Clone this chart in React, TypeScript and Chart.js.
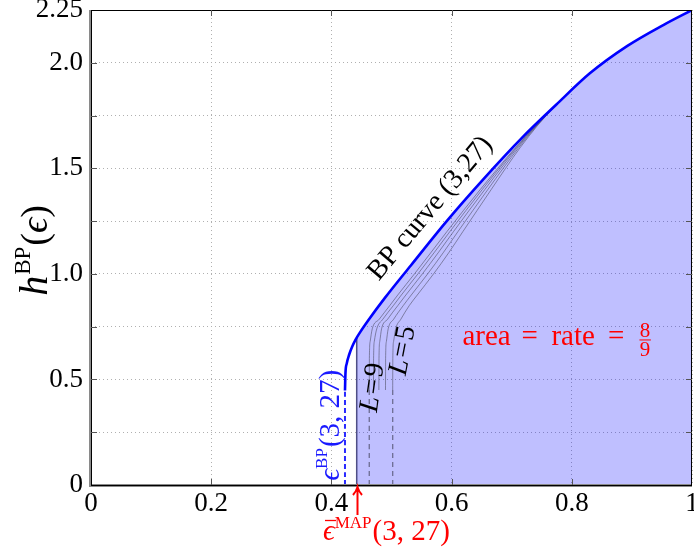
import React, { useEffect, useRef } from 'react';
import { Chart, registerables } from 'chart.js';
Chart.register(...registerables);

const SERIF = "'Liberation Serif', 'DejaVu Serif', serif";

// BP EXIT curve of the (3,27) ensemble
const bpX = [0.4226, 0.4234, 0.4255, 0.4295, 0.4345, 0.4405, 0.4476, 0.4626, 0.4887, 0.5322, 0.5919, 0.6534, 0.719, 0.7735, 0.83, 0.8925, 0.953, 1.0];
const bpY = [0.448, 0.53, 0.575, 0.617, 0.655, 0.69, 0.723, 0.785, 0.885, 1.04, 1.25, 1.45, 1.65, 1.8, 1.95, 2.08, 2.18, 2.25];

// thresholds
const epsBP = 0.4226;
const epsBPTop = 0.448;
const epsMAP = 0.4421;
const epsMAPTop = 0.697;

// coupled-chain curves L = 5..9 (shared heights)
const lY = [0.45, 0.6, 0.68, 0.74, 0.785, 0.85, 0.9, 1.0, 1.1, 1.2, 1.3, 1.4, 1.5, 1.6, 1.7, 1.8];
const l5X = [0.502, 0.5022, 0.5035, 0.507, 0.5155, 0.5296, 0.5429, 0.57, 0.5952, 0.6187, 0.6423, 0.666, 0.6898, 0.7146, 0.7422, 0.7735];
const l6X = [0.49, 0.4902, 0.4915, 0.4945, 0.5035, 0.5196, 0.5329, 0.5602, 0.586, 0.6105, 0.6353, 0.6604, 0.6858, 0.7122, 0.7412, 0.7735];
const l7X = [0.479, 0.4792, 0.4805, 0.4835, 0.4935, 0.5106, 0.5239, 0.5514, 0.5777, 0.6031, 0.629, 0.6554, 0.6822, 0.71, 0.7403, 0.7735];
const l8X = [0.47, 0.4702, 0.4714, 0.4755, 0.4855, 0.5031, 0.5164, 0.544, 0.5708, 0.597, 0.6238, 0.6512, 0.6792, 0.7082, 0.7396, 0.7735];
const l9X = [0.463, 0.4632, 0.4645, 0.468, 0.4795, 0.4971, 0.5104, 0.5382, 0.5653, 0.5921, 0.6196, 0.6478, 0.6768, 0.7068, 0.739, 0.7735];
const dashedLX = [0.463, 0.502];
const dashedTop = 0.45;

// axes
const xTickValues = [0, 0.2, 0.4, 0.6, 0.8, 1];
const xTickText = ['0', '0.2', '0.4', '0.6', '0.8', '1'];
const yTickValues = [0, 0.5, 1, 1.5, 2, 2.25];
const yTickText = ['0', '0.5', '1.0', '1.5', '2.0', '2.25'];

const pts = (xs: number[], ys: number[]) => xs.map((x, i) => ({ x, y: ys[i] }));
const fN = (s: number) => `${s}px ${SERIF}`;
const fI = (s: number) => `italic ${s}px ${SERIF}`;

type Part = { t: string; f: string; dy?: number; dx?: number };

function drawRich(ctx: CanvasRenderingContext2D, parts: Part[], x: number, y: number, angle: number, align: 'left' | 'center', color: string, baseline: CanvasTextBaseline = 'alphabetic') {
  ctx.save();
  ctx.translate(x, y);
  ctx.rotate(angle);
  ctx.fillStyle = color;
  ctx.textAlign = 'left';
  ctx.textBaseline = baseline;
  let total = 0;
  const widths = parts.map((p) => {
    ctx.font = p.f;
    const w = ctx.measureText(p.t).width + (p.dx || 0);
    total += w;
    return w;
  });
  let cx = align === 'center' ? -total / 2 : 0;
  parts.forEach((p, i) => {
    ctx.font = p.f;
    ctx.fillText(p.t, cx, -(p.dy || 0));
    cx += widths[i];
  });
  ctx.restore();
}

const annotPlugin = {
  id: 'annot',
  afterDatasetsDraw(chart: any) {
    const { ctx, chartArea: a, scales } = chart;
    const xs = scales.x;
    const ys = scales.y;
    const px = (v: number) => xs.getPixelForValue(v);
    const py = (v: number) => ys.getPixelForValue(v);

    // axis bands and box
    ctx.save();
    ctx.fillStyle = '#8a8a8a';
    ctx.fillRect(a.left - 2, a.top, 3, a.bottom - a.top + 1);
    ctx.fillRect(a.left - 2, a.bottom - 1, a.right - a.left + 2, 3);
    ctx.strokeStyle = '#000';
    ctx.lineWidth = 1;
    ctx.strokeRect(Math.round(a.left) + 0.5, Math.round(a.top) + 0.5, Math.round(a.right - a.left) - 1, Math.round(a.bottom - a.top));
    // inner ticks
    ctx.strokeStyle = '#555';
    ctx.beginPath();
    for (let v = 0.2; v < 0.99; v += 0.2) {
      const X = Math.round(px(v)) + 0.5;
      ctx.moveTo(X, a.bottom); ctx.lineTo(X, a.bottom - 6);
      ctx.moveTo(X, a.top); ctx.lineTo(X, a.top + 6);
    }
    for (let v = 0.25; v < 2.2; v += 0.25) {
      const Y = Math.round(py(v)) + 0.5;
      ctx.moveTo(a.left, Y); ctx.lineTo(a.left + 6, Y);
      ctx.moveTo(a.right, Y); ctx.lineTo(a.right - 6, Y);
    }
    ctx.stroke();
    ctx.restore();

    // BP curve label
    drawRich(ctx, [{ t: 'BP curve (3,27)', f: fN(28) }], px(0.5645), py(1.31), (-50 * Math.PI) / 180, 'center', '#000', 'middle');

    // L labels
    const lParts = (n: string): Part[] => [
      { t: 'L', f: fI(28), dx: 2 },
      { t: '=', f: fN(28), dx: 2 },
      { t: n, f: fN(28) },
    ];
    drawRich(ctx, lParts('9'), px(0.4692), py(0.462), (-82 * Math.PI) / 180, 'center', '#000', 'middle');
    drawRich(ctx, lParts('5'), px(0.519), py(0.637), (-79 * Math.PI) / 180, 'center', '#000', 'middle');

    // area = rate = 8/9
    const ax = px(0.618);
    const ay = py(0.661);
    ctx.save();
    ctx.fillStyle = '#ff0000';
    ctx.strokeStyle = '#ff0000';
    ctx.textBaseline = 'alphabetic';
    ctx.textAlign = 'left';
    ctx.font = fN(29);
    ctx.fillText('area', ax, ay);
    ctx.fillText('=', ax + 59, ay);
    ctx.fillText('rate', ax + 89, ay);
    ctx.fillText('=', ax + 145.6, ay);
    ctx.font = fN(21);
    ctx.textAlign = 'center';
    ctx.fillText('8', ax + 182.6, ay - 8);
    ctx.fillText('9', ax + 182.6, ay + 11);
    ctx.lineWidth = 1;
    ctx.beginPath();
    ctx.moveTo(ax + 177, ay - 5.5);
    ctx.lineTo(ax + 188.5, ay - 5.5);
    ctx.stroke();
    ctx.restore();

    // eps^BP(3,27) (blue, vertical)
    drawRich(
      ctx,
      [
        { t: 'ϵ', f: fI(29) },
        { t: 'BP', f: fN(17), dy: 12, dx: 1 },
        { t: '(3, 27)', f: fN(29) },
      ],
      px(0.4126), py(0.021), -Math.PI / 2, 'left', '#1a1aff'
    );

    // eps-bar^MAP(3,27) (red, below the axis)
    const mx = px(0.386);
    const my = a.bottom + 55;
    drawRich(
      ctx,
      [
        { t: 'ϵ', f: fI(29) },
        { t: 'MAP', f: fN(17), dy: 12, dx: 1 },
        { t: '(3, 27)', f: fN(29) },
      ],
      mx, my, 0, 'left', '#ff0000'
    );
    ctx.save();
    ctx.strokeStyle = '#ff0000';
    ctx.lineWidth = 1.3;
    ctx.beginPath();
    ctx.moveTo(mx + 2, my - 19.5);
    ctx.lineTo(mx + 13, my - 19.5);
    ctx.stroke();
    // arrow
    const arx = Math.round(px(epsMAP)) + 0.5;
    ctx.lineWidth = 2;
    ctx.beginPath();
    ctx.moveTo(arx, a.bottom + 30);
    ctx.lineTo(arx, a.bottom + 3);
    ctx.moveTo(arx - 4.5, a.bottom + 10);
    ctx.quadraticCurveTo(arx - 1, a.bottom + 6, arx, a.bottom + 2);
    ctx.quadraticCurveTo(arx + 1, a.bottom + 6, arx + 4.5, a.bottom + 10);
    ctx.stroke();
    ctx.restore();

    // y-axis title h^BP(eps)
    drawRich(
      ctx,
      [
        { t: 'h', f: fI(40), dx: 1 },
        { t: 'BP', f: fN(23), dy: 17, dx: 1 },
        { t: '(', f: fN(38) },
        { t: 'ϵ', f: fI(38) },
        { t: ')', f: fN(38) },
      ],
      47, (a.top + a.bottom) / 2 + 3, -Math.PI / 2, 'center', '#000'
    );
  },
};

export default function App() {
  const ref = useRef<HTMLCanvasElement>(null);
  useEffect(() => {
    const canvas = ref.current;
    if (!canvas) return;
    const line = (data: any[], color: string, width: number, dash: number[] = []) => ({
      data,
      borderColor: color,
      borderWidth: width,
      borderDash: dash,
      pointRadius: 0,
      pointHoverRadius: 0,
      fill: false,
      cubicInterpolationMode: 'monotone' as const,
    });
    const gray = 'rgba(70,70,90,0.55)';
    const fillData = [{ x: epsMAP, y: 0 }, { x: epsMAP, y: epsMAPTop }, ...pts(bpX, bpY).filter((p) => p.x > epsMAP)];
    const chart = new Chart(canvas, {
      type: 'line',
      data: {
        datasets: [
          line(pts(bpX, bpY), '#0000ff', 2.6),
          line([{ x: epsBP, y: 0 }, { x: epsBP, y: epsBPTop }], '#2a2aff', 2, [5, 3]),
          line([{ x: epsMAP, y: 0 }, { x: epsMAP, y: epsMAPTop }], 'rgba(60,60,120,0.9)', 1.5),
          line(pts(l9X, lY), gray, 1),
          line(pts(l8X, lY), gray, 1),
          line(pts(l7X, lY), gray, 1),
          line(pts(l6X, lY), gray, 1),
          line(pts(l5X, lY), gray, 1),
          ...dashedLX.map((dx) => line([{ x: dx, y: 0 }, { x: dx, y: dashedTop }], 'rgba(80,80,110,0.75)', 1.3, [5, 4])),
          {
            data: fillData,
            borderColor: 'rgba(0,0,0,0)',
            borderWidth: 1,
            backgroundColor: 'rgba(0,0,255,0.25)',
            fill: 'origin',
            pointRadius: 0,
            cubicInterpolationMode: 'monotone' as const,
          },
        ],
      },
      options: {
        animation: false,
        responsive: false,
        events: [],
        layout: { padding: { top: 10, right: 2, left: 0, bottom: 0 } },
        plugins: { legend: { display: false }, tooltip: { enabled: false } },
        scales: {
          x: {
            type: 'linear',
            min: 0,
            max: 1,
            grid: { color: '#b0b0b0', lineWidth: 1, drawTicks: false },
            border: { display: false, dash: [1, 3] },
            ticks: {
              stepSize: 0.2,
              color: '#000',
              padding: 3,
              maxRotation: 0,
              autoSkip: false,
              font: { family: SERIF, size: 27 },
              callback: (v: any) => {
                const i = xTickValues.findIndex((t) => Math.abs(t - Number(v)) < 1e-6);
                return i >= 0 ? xTickText[i] : '';
              },
            },
            afterFit: (s: any) => {
              s.height = 71;
              s.paddingLeft = 0;
              s.paddingRight = 0;
            },
          },
          y: {
            type: 'linear',
            min: 0,
            max: 2.25,
            grid: { color: '#b0b0b0', lineWidth: 1, drawTicks: false },
            border: { display: false, dash: [1, 3] },
            ticks: {
              stepSize: 0.25,
              color: '#000',
              padding: 8,
              autoSkip: false,
              font: { family: SERIF, size: 27 },
              callback: (v: any) => {
                const i = yTickValues.findIndex((t) => Math.abs(t - Number(v)) < 1e-6);
                return i >= 0 ? yTickText[i] : '';
              },
            },
            afterFit: (s: any) => {
              s.width = 91;
              s.paddingTop = 0;
              s.paddingBottom = 0;
            },
          },
        },
      },
      plugins: [annotPlugin],
    } as any);
    return () => chart.destroy();
  }, []);
  return (
    <div style={{ position: 'absolute', left: 0, top: 0, width: 694, height: 556, overflow: 'hidden', background: '#fff' }}>
      <canvas ref={ref} width={694} height={556} style={{ display: 'block', width: 694, height: 556 }} />
    </div>
  );
}
